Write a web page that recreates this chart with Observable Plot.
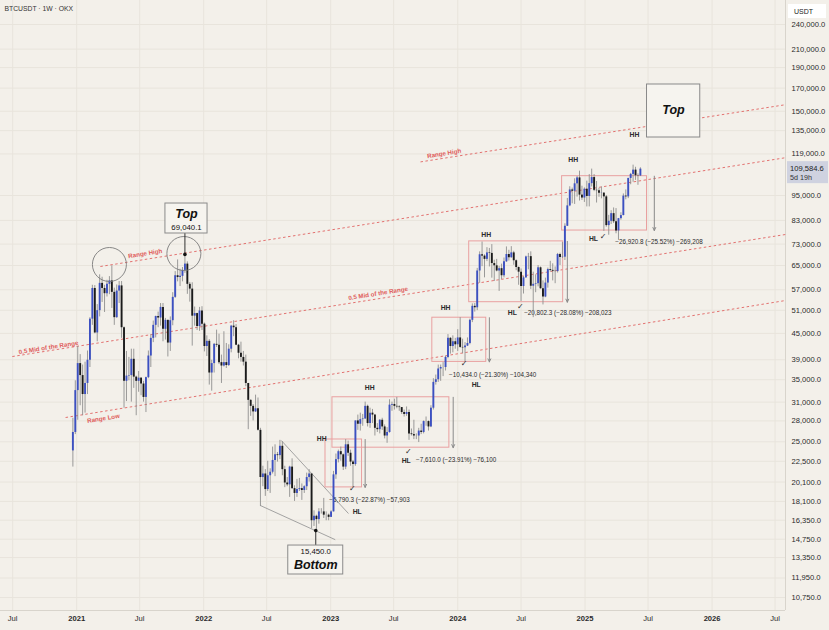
<!DOCTYPE html>
<html><head><meta charset="utf-8">
<script src="https://cdn.jsdelivr.net/npm/d3@7"></script>
<script src="https://cdn.jsdelivr.net/npm/@observablehq/plot@0.6"></script>
<style>
html,body{margin:0;padding:0;background:#f3f0ea;}
#chart{width:829px;height:630px;overflow:hidden;}
</style></head><body><div id="chart"></div>
<script>
// ===== DATA (weekly BTCUSDT candles, thousand USDT; open = previous close) =====
const firstWeek = "2020-12-21";
const firstOpen = 23.8;
const highs = [
  28.4,34.8,
  41.9,40.1,37.9,38.5,40.9,49.0,58.4,58.3,52.6,61.8,61.0,58.4,60.0,61.2,64.9,57.5,58.5,59.6,59.6,46.6,40.8,39.5,41.3,41.3,35.7,36.6,35.4,34.7,35.5,40.9,44.7,48.1,49.4,50.5,52.9,52.9,48.8,48.3,49.2,56.1,62.9,67.0,63.7,64.3,69.04,66.3,59.3,59.2,51.9,50.2,51.8,52.0,
  47.6,44.4,43.5,38.9,42.6,45.8,44.8,40.0,45.4,42.6,42.3,47.0,48.2,47.2,42.4,42.9,40.8,40.0,34.3,31.4,30.6,32.2,31.7,26.9,21.9,21.5,22.5,21.6,24.3,24.6,23.6,25.2,25.0,21.9,20.6,21.9,22.8,19.7,20.4,20.5,19.9,19.7,21.1,21.5,21.0,17.2,16.8,17.4,17.4,18.4,17.1,16.9,
  17.2,21.3,23.4,23.9,24.3,23.4,25.3,25.1,23.9,22.6,28.0,28.9,29.2,29.0,31.0,30.5,30.0,29.8,29.0,27.6,28.2,28.4,27.4,27.0,31.4,31.0,31.5,31.8,30.4,30.1,29.7,30.2,29.7,26.8,28.1,26.1,26.9,27.5,28.0,28.6,28.0,30.4,35.2,35.9,37.9,37.9,38.4,39.8,44.7,44.0,44.4,43.8,
  45.9,49.0,43.6,42.8,43.9,48.6,52.8,52.9,64.0,70.0,73.8,68.9,71.6,71.3,72.8,66.9,67.2,64.7,65.5,67.7,71.9,70.6,72.0,70.2,67.0,64.5,63.8,61.3,68.4,69.4,70.0,62.7,61.8,65.0,64.5,59.8,60.7,64.1,66.5,65.6,64.5,69.4,69.5,73.6,81.5,93.5,99.6,98.9,104.0,105.3,108.4,99.9,99.0,
  102.7,106.4,109.6,106.4,102.5,98.8,99.5,96.5,95.0,85.3,87.5,88.8,88.5,83.9,86.5,95.8,97.9,104.3,107.1,112.0,110.7,106.8,110.4
];
const lows = [
  21.8,26.0,
  28.1,30.4,28.8,29.2,32.3,37.4,47.0,44.9,43.0,49.2,53.2,50.4,54.8,55.5,51.5,47.0,48.8,52.9,43.8,30.0,31.1,34.8,31.0,33.4,28.8,32.7,32.1,31.0,29.3,35.2,37.4,42.8,43.9,46.4,46.8,43.0,43.4,39.6,40.8,46.9,54.4,59.5,58.0,59.5,62.3,55.6,53.3,42.0,46.8,45.7,45.5,45.7,
  40.7,39.7,34.0,32.9,36.3,41.7,38.0,34.3,37.5,37.2,37.6,40.5,44.2,42.1,39.2,38.5,37.7,33.7,26.7,28.7,28.0,29.3,26.5,17.6,19.6,18.6,19.1,18.9,21.0,20.7,22.4,22.7,20.8,19.5,19.6,18.5,19.3,18.1,18.5,19.1,18.2,18.9,19.2,20.1,15.6,15.8,15.45,16.0,16.9,16.5,16.3,16.3,
  16.6,17.1,20.4,22.3,22.5,21.4,21.5,23.1,21.9,19.5,21.9,26.6,26.5,27.2,28.2,27.1,26.9,27.6,25.8,26.3,26.1,26.6,25.4,24.8,26.2,29.5,29.7,29.9,29.5,29.0,28.6,28.7,25.2,25.8,25.3,25.3,24.9,26.0,26.1,27.2,26.5,27.0,29.7,34.0,34.5,34.7,35.6,36.7,39.2,40.2,40.5,41.3,
  40.8,41.5,40.3,38.5,41.9,42.3,47.7,50.5,50.9,59.0,64.6,60.8,66.4,64.5,60.7,59.6,62.8,56.5,60.2,60.8,66.1,66.6,67.6,65.1,63.2,58.4,53.5,55.7,60.6,63.5,57.1,49.0,56.1,57.9,57.2,52.5,54.6,57.5,62.7,59.8,58.9,62.4,65.0,67.5,66.8,80.3,89.4,90.8,90.5,94.2,92.2,92.5,91.5,
  89.3,89.3,99.5,97.0,91.2,94.1,93.3,78.2,80.0,76.6,81.2,81.6,77.2,74.5,83.1,85.1,92.8,93.4,100.7,102.1,103.1,100.4,105.3
];
const closes = [
  26.3,33.0,
  38.2,35.8,32.3,34.3,38.9,48.6,57.4,45.1,50.9,59.0,57.4,55.8,58.7,59.8,56.2,49.0,56.6,58.2,46.4,34.7,35.7,35.8,39.1,35.5,34.7,35.3,34.2,31.8,35.4,39.8,43.8,47.0,49.3,48.9,51.8,46.0,48.3,42.7,48.2,54.7,61.5,60.9,61.3,63.3,65.5,58.7,57.2,49.4,50.1,46.7,50.8,47.3,
  41.9,43.1,36.3,38.2,42.4,42.2,38.4,37.7,38.4,37.8,41.3,46.8,46.4,42.2,40.4,39.5,38.5,34.3,31.3,30.3,29.4,29.9,26.6,20.6,21.0,19.3,20.8,21.2,22.6,23.3,23.2,24.4,21.5,20.0,19.8,21.8,19.4,18.9,19.3,19.4,19.2,19.6,20.6,21.0,16.3,16.7,16.4,17.1,17.1,16.8,16.8,16.6,
  17.1,20.9,22.7,23.7,23.3,21.8,24.6,23.5,22.4,22.1,28.0,27.5,28.2,28.3,30.3,27.6,29.2,28.9,26.9,26.7,28.1,27.1,25.8,26.3,30.5,30.6,30.3,30.2,30.1,29.3,29.0,29.3,26.1,26.0,25.8,25.8,26.5,26.3,27.9,27.9,27.1,30.0,34.5,35.0,37.1,37.4,37.4,39.5,43.8,41.9,43.0,42.3,
  43.9,41.7,41.6,42.0,42.6,48.3,52.1,51.7,63.1,68.9,68.4,67.2,69.6,69.4,65.7,64.9,63.1,63.9,61.5,66.3,69.0,67.8,69.6,66.7,64.3,62.7,58.0,60.8,68.1,68.2,58.1,58.7,58.9,64.2,57.3,54.8,59.1,63.6,63.3,63.0,62.9,69.0,67.9,68.0,80.4,89.8,97.9,97.2,101.2,104.5,95.2,93.7,98.3,
  94.5,101.3,104.7,97.7,97.5,96.1,96.2,94.3,80.7,82.6,86.1,82.4,78.4,83.8,85.2,94.7,94.3,104.2,106.5,109.0,105.7,105.6,109.5846
];
const lastPrice = 109584.6;
const lastCountdown = "5d 19h";

// axis ticks
const yTicks = [240000,210000,190000,170000,150000,135000,119000,95000,83000,73000,65000,57000,51000,45000,39000,35000,31000,28000,25000,22500,20100,18100,16350,14750,13350,11950,10750];
const yearTicks = ["2021-01-01","2022-01-01","2023-01-01","2024-01-01","2025-01-01","2026-01-01"];
const julTicks = ["2020-07-01","2021-07-01","2022-07-01","2023-07-01","2024-07-01","2025-07-01","2026-07-01"];

// channel lines (dotted red)
const chStart = ["2021-03-10","2020-06-30","2020-11-30","2023-09-16"];
const chStartPrice = [64650,39690,28520,113970];
const chEnd = ["2026-07-31","2026-07-31","2026-07-31","2026-07-31"];
const chEndPrice = [116590,76900,53770,155390];
const chLabel = ["Range High","0.5 Mid of the Range","0.5 Mid of the Range","Range Low","Range High"];
const chLabelDate = ["2021-07-17","2020-10-12","2023-05-17","2021-03-19","2023-11-23"];
const chLabelPrice = [69370,41680,55850,28370,119280];

// price-range boxes
const rgStart = ["2022-12-17","2023-01-06","2023-10-20","2024-02-03","2024-10-27"];
const rgEnd = ["2023-04-01","2023-12-08","2024-03-23","2024-10-30","2025-06-28"];
const rgTop = [25318.3,31827.7,48985.9,74082.3,105489.0];
const rgBottom = [19528.0,24217.7,38551.9,53280.0,78568.2];
const rgArrow = ["2023-04-10","2023-12-19","2024-04-01","2024-11-11","2025-07-19"];
const rgText = ["−5,790.3 (−22.87%) −57,903","−7,610.0 (−23.91%) −76,100","−10,434.0 (−21.30%) −104,340","−20,802.3 (−28.08%) −208,023","−26,920.8 (−25.52%) −269,208"];
const rgTextDate = ["2022-12-28","2023-09-03","2023-12-07","2024-07-10","2025-03-29"];
const rgTextPrice = [18280,22710,35900,50380,74030];

// structure labels
const hhDate = ["2022-12-06","2023-04-23","2023-11-27","2024-03-23","2024-11-28","2025-05-23"];
const hhPrice = [25450,33550,51760,76900,115460,132220];
const hlDate = ["2023-03-18","2023-08-06","2024-02-23","2024-06-06","2025-01-25"];
const hlPrice = [17130,22590,34100,50380,75250];
const chkDate = ["2023-03-04","2023-08-12","2024-01-19","2024-06-29","2025-02-22"];
const chkPrice = [19390,23720,38150,52040,76060];

// falling wedge (grey)
const wdStart = ["2022-08-12","2022-06-13"];
const wdStartPrice = [25180,17700];
const wdEnd = ["2023-02-21","2023-01-14"];
const wdEndPrice = [16950,14710];

// circles at the 2021 highs
const circDate = ["2021-04-05","2021-11-05"];
const circPrice = [65360,69370];

// callouts
const topDate = "2021-11-08", topPrice = 69040.1;
const topBox = {x1:"2021-09-13", x2:"2022-01-12", y1:77320, y2:90960, title:"Top", titleY:86160, valueY:79860};
const botDate = "2022-11-19", botPrice = 15450.0;
const botBox = {x1:"2022-09-01", x2:"2023-02-06", y1:12180, y2:14250, title:"Bottom", titleY:12790, valueY:13790};
const futBox = {x1:"2025-06-28", x2:"2025-11-28", y1:130080, y2:173380, title:"Top", tx:"2025-09-12", ty:150590};

// ===== BUILD =====
const D = s => new Date(s);
const K = 1000;
const candles = closes.map((c, i) => ({
  date: d3.utcMonday.offset(D(firstWeek), i),
  open: (i === 0 ? firstOpen : closes[i - 1]) * K,
  high: highs[i] * K,
  low: lows[i] * K,
  close: c * K
}));
const up = candles.filter(d => d.close >= d.open);
const down = candles.filter(d => d.close < d.open);

const channels = chStart.map((s, i) => ({x1: D(s), y1: chStartPrice[i], x2: D(chEnd[i]), y2: chEndPrice[i]}));
const chLabels = chLabel.map((t, i) => ({x: D(chLabelDate[i]), y: chLabelPrice[i], t}));
const ranges = rgStart.map((s, i) => ({x1: D(s), x2: D(rgEnd[i]), top: rgTop[i], bottom: rgBottom[i], ax: D(rgArrow[i]),
  t: rgText[i], tx: D(rgTextDate[i]), ty: rgTextPrice[i]}));
const hh = hhDate.map((d, i) => ({x: D(d), y: hhPrice[i]}));
const hl = hlDate.map((d, i) => ({x: D(d), y: hlPrice[i]}));
const chk = chkDate.map((d, i) => ({x: D(d), y: chkPrice[i]}));
const wedge = wdStart.map((d, i) => ({x1: D(d), y1: wdStartPrice[i], x2: D(wdEnd[i]), y2: wdEndPrice[i]}));
const circles = circDate.map((d, i) => ({x: D(d), y: circPrice[i]}));
const callouts = [topBox, botBox].map(b => ({...b, x1: D(b.x1), x2: D(b.x2), cx: new Date((D(b.x1).getTime() + D(b.x2).getTime()) / 2)}));

const FONT = "'Liberation Sans', Arial, sans-serif";
const RED = "#df5c5b";
const fmt = d3.format(",.1f");
const xDomain = [D("2020-05-27"), D("2026-07-31")];
const yDomain = [10021, 273339];
const gridC = "#e8e4dc";

const chart = Plot.plot({
  width: 829, height: 630,
  marginLeft: 0, marginRight: 44, marginTop: 0, marginBottom: 20,
  style: {background: "#f3f0ea", fontFamily: FONT, color: "#2a2a2a", overflow: "visible"},
  x: {type: "utc", domain: xDomain, axis: null},
  y: {type: "log", domain: yDomain, axis: null},
  marks: [
    Plot.gridY(yTicks, {stroke: gridC, strokeOpacity: 1}),
    Plot.gridX([...yearTicks, ...julTicks].map(D), {stroke: gridC, strokeOpacity: 1}),
    Plot.ruleY([yDomain[0]], {stroke: "#d8d4cc"}),
    Plot.ruleX([xDomain[1]], {stroke: "#d8d4cc"}),
    // axes
    Plot.axisY(yTicks, {anchor: "right", tickSize: 0, tickPadding: 6, tickFormat: fmt, fontSize: 7.6, fill: "#2a2a2a", label: null}),
    Plot.axisX(yearTicks.map(D), {anchor: "bottom", tickSize: 0, tickPadding: 5, tickFormat: d3.utcFormat("%Y"), fontSize: 7.6, fontWeight: "bold", fill: "#2a2a2a", label: null}),
    Plot.axisX(julTicks.map(D), {anchor: "bottom", tickSize: 0, tickPadding: 5, tickFormat: () => "Jul", fontSize: 7.6, fill: "#2a2a2a", label: null}),
    // channel
    Plot.link(channels, {x1: "x1", y1: "y1", x2: "x2", y2: "y2", stroke: RED, strokeWidth: 1, strokeDasharray: "2.5,2.5", strokeOpacity: 0.85}),
    Plot.text(chLabels, {x: "x", y: "y", text: "t", fill: RED, fontSize: 6.2, fontWeight: "bold", rotate: -9}),
    // wedge
    Plot.link(wedge, {x1: "x1", y1: "y1", x2: "x2", y2: "y2", stroke: "#9a9a9a", strokeWidth: 0.9}),
    // range boxes
    Plot.rect(ranges, {x1: "x1", x2: "x2", y1: "bottom", y2: "top", fill: "none", stroke: "#e9a0a0", strokeWidth: 1}),
    Plot.arrow(ranges, {x1: "ax", x2: "ax", y1: "top", y2: "bottom", stroke: "#8a8a8a", strokeWidth: 1, headLength: 5, headAngle: 50}),
    Plot.text(ranges, {x: "tx", y: "ty", text: "t", textAnchor: "start", fontSize: 6.3, fill: "#2a2a2a"}),
    // candles
    Plot.ruleX(candles, {x: "date", y1: "low", y2: "high", stroke: "#8e8e8e", strokeWidth: 0.9}),
    Plot.ruleX(up, {x: "date", y1: "open", y2: "close", stroke: "#3c50c2", strokeWidth: 1.9}),
    Plot.ruleX(down, {x: "date", y1: "open", y2: "close", stroke: "#1b1b1b", strokeWidth: 1.9}),
    // structure labels
    Plot.text(hh, {x: "x", y: "y", text: () => "HH", fontSize: 6.8, fontWeight: "bold", fill: "#2a2a2a"}),
    Plot.text(hl, {x: "x", y: "y", text: () => "HL", fontSize: 6.8, fontWeight: "bold", fill: "#2a2a2a"}),
    Plot.text(chk, {x: "x", y: "y", text: () => "✓", fontSize: 8, fontWeight: "bold", fill: "#2a2a2a", fontFamily: "DejaVu Sans"}),
    // circles
    Plot.dot(circles, {x: "x", y: "y", r: 17, stroke: "#7c7c7c", strokeWidth: 0.9, fill: "none"}),
    // callout connectors
    Plot.ruleX([{x: D(topDate), y1: topPrice, y2: topBox.y1}, {x: D(botDate), y1: botPrice, y2: botBox.y2}], {x: "x", y1: "y1", y2: "y2", stroke: "#333", strokeWidth: 1}),
    Plot.dot([{x: D(topDate), y: topPrice}, {x: D(botDate), y: botPrice}], {x: "x", y: "y", r: 1.8, fill: "#111"}),
    Plot.rect(callouts, {x1: "x1", x2: "x2", y1: "y1", y2: "y2", fill: "#f6f4ef", stroke: "#8a8a8a", strokeWidth: 1}),
    Plot.text(callouts, {x: "cx", y: "titleY", text: "title", fontSize: 12.5, fontWeight: "bold", fontStyle: "italic", fill: "#111"}),
    Plot.text([{x: callouts[0].cx, y: topBox.valueY, t: fmt(topPrice)}, {x: callouts[1].cx, y: botBox.valueY, t: fmt(botPrice)}], {x: "x", y: "y", text: "t", fontSize: 7.8, fill: "#111"}),
    // future top box
    Plot.rect([futBox], {x1: d => D(d.x1), x2: d => D(d.x2), y1: "y1", y2: "y2", fill: "#f6f4ef", stroke: "#8a8a8a", strokeWidth: 1}),
    Plot.text([futBox], {x: d => D(d.tx), y: "ty", text: "title", fontSize: 12.5, fontWeight: "bold", fontStyle: "italic", fill: "#111"}),
    // header
    Plot.text(["BTCUSDT · 1W · OKX"], {text: d => d, frameAnchor: "top-left", dx: 4, dy: 6, textAnchor: "start", lineAnchor: "top", fontSize: 6.8, fill: "#333"})
  ]
});

// right-axis header and last price label
const svg = d3.select(chart);
const py = chart.scale("y").apply(lastPrice);
const g = svg.append("g").attr("font-family", FONT).attr("text-anchor", "start");
g.append("rect").attr("x", 788).attr("y", 4).attr("width", 38).attr("height", 14).attr("fill", "#ffffff");
g.append("text").attr("x", 794).attr("y", 14).attr("font-size", 7).attr("fill", "#222").text("USDT");
g.append("rect").attr("x", 787).attr("y", py - 7.5).attr("width", 41).attr("height", 22).attr("fill", "#cfd2e0");
g.append("text").attr("x", 790).attr("y", py + 2.7).attr("font-size", 7.6).attr("fill", "#222").text(fmt(lastPrice));
g.append("text").attr("x", 790).attr("y", py + 11.5).attr("font-size", 7.2).attr("fill", "#333").text(lastCountdown);

document.getElementById("chart").appendChild(chart);
</script>
</body></html>
